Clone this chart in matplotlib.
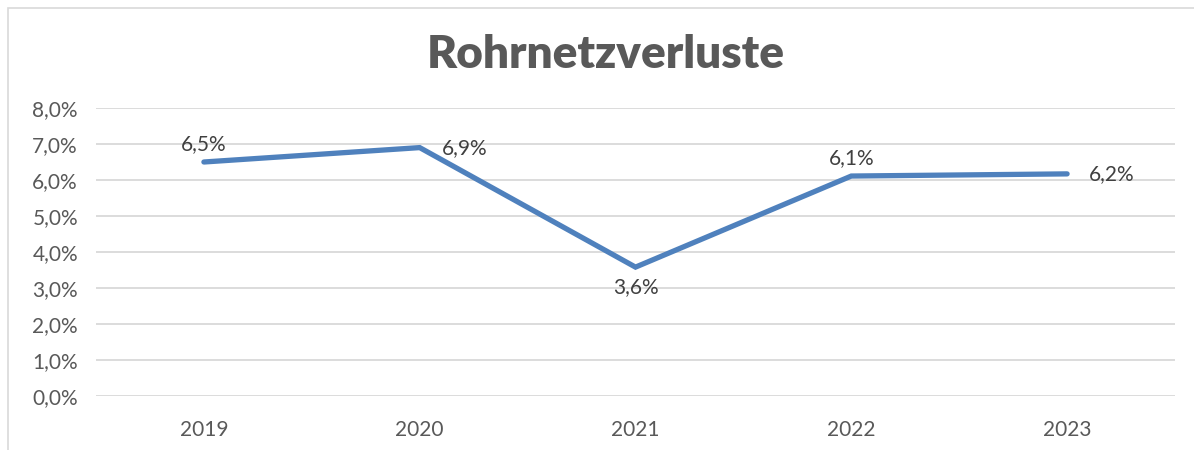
import matplotlib.pyplot as plt
from matplotlib.patches import Rectangle

years = ["2019", "2020", "2021", "2022", "2023"]
verluste = [6.5, 6.9, 3.58, 6.11, 6.17]
labels = ["6,5%", "6,9%", "3,6%", "6,1%", "6,2%"]
# label placement like in the Excel original
label_pos = ["above", "right", "below", "above", "right"]

plt.rcParams['font.family'] = ['Lato', 'DejaVu Sans']

fig = plt.figure(figsize=(11.94, 4.5), dpi=100)
ax = fig.add_axes([96 / 1194, 1 - 396 / 450, (1175 - 96) / 1194, (396 - 108) / 450])

x = list(range(len(years)))
ax.plot(x, verluste, color='#4F81BD', linewidth=3.8, solid_capstyle='round',
        solid_joinstyle='miter', zorder=3)

for xi, yi, lab, pos in zip(x, verluste, labels, label_pos):
    if pos == "above":
        ax.annotate(lab, (xi, yi), xytext=(0, 6), textcoords='offset points',
                    ha='center', va='bottom', fontsize=15, color='#404040')
    elif pos == "below":
        ax.annotate(lab, (xi, yi), xytext=(0, -7), textcoords='offset points',
                    ha='center', va='top', fontsize=15, color='#404040')
    else:
        ax.annotate(lab, (xi, yi), xytext=(16, 0), textcoords='offset points',
                    ha='left', va='center', fontsize=15, color='#404040')

ax.set_xlim(-0.5, len(years) - 0.5)
ax.set_ylim(0, 8)
ax.set_yticks(range(0, 9))
ax.set_yticklabels([f"{v},0%" for v in range(0, 9)])
ax.set_xticks(x)
ax.set_xticklabels(years)
ax.tick_params(axis='both', length=0, labelsize=15, labelcolor='#595959')
ax.tick_params(axis='y', pad=13)
ax.tick_params(axis='x', pad=17)
ax.grid(axis='y', color='#D9D9D9', linewidth=1.3)
ax.set_axisbelow(True)
for s in ax.spines.values():
    s.set_visible(False)

fig.text(606 / 1194, 1 - 55 / 450, "Rohrnetzverluste", ha='center', va='center',
         fontsize=33, fontweight='heavy', color='#595959')

# chart frame
fig.patches.append(Rectangle((8 / 1194, -0.01), 1.02, 1 - 8 / 450 + 0.01,
                             transform=fig.transFigure, fill=False,
                             edgecolor='#D9D9D9', linewidth=1.2))

fig.savefig("out.png", dpi=100)
